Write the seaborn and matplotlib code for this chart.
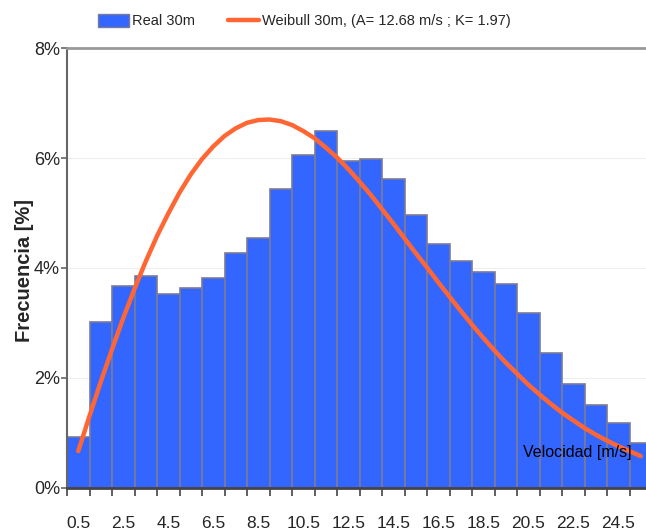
import numpy as np
import pandas as pd
import matplotlib
matplotlib.use("Agg")
import matplotlib.pyplot as plt
import seaborn as sns
from matplotlib.patches import Patch
from matplotlib.lines import Line2D

# ---- data ----
speeds = [0.5, 1.5, 2.5, 3.5, 4.5, 5.5, 6.5, 7.5, 8.5, 9.5, 10.5, 11.5, 12.5,
          13.5, 14.5, 15.5, 16.5, 17.5, 18.5, 19.5, 20.5, 21.5, 22.5, 23.5, 24.5, 25.5]
real_pct = [0.93, 3.02, 3.67, 3.86, 3.53, 3.63, 3.82, 4.28, 4.54, 5.44, 6.05, 6.50, 5.95,
            5.99, 5.62, 4.96, 4.44, 4.13, 3.93, 3.71, 3.18, 2.46, 1.90, 1.51, 1.19, 0.81]
curve_speeds = [0.5, 1.0, 1.5, 2.0, 2.5, 3.0, 3.5, 4.0, 4.5, 5.0, 5.5, 6.0, 6.5, 7.0,
                7.5, 8.0, 8.5, 9.0, 9.5, 10.0, 10.5, 11.0, 11.5, 12.0, 12.5, 13.0,
                13.5, 14.0, 14.5, 15.0, 15.5, 16.0, 16.5, 17.0, 17.5, 18.0, 18.5,
                19.0, 19.5, 20.0, 20.5, 21.0, 21.5, 22.0, 22.5, 23.0, 23.5, 24.0,
                24.5, 25.0, 25.5]
weibull_pct = [0.67, 1.31, 1.93, 2.52, 3.09, 3.62, 4.12, 4.58, 4.99, 5.37, 5.70, 5.98,
               6.21, 6.40, 6.54, 6.64, 6.69, 6.70, 6.67, 6.60, 6.49, 6.36, 6.19, 6.01,
               5.80, 5.57, 5.33, 5.07, 4.81, 4.54, 4.27, 4.01, 3.74, 3.48, 3.22, 2.97,
               2.73, 2.50, 2.28, 2.08, 1.88, 1.70, 1.53, 1.37, 1.23, 1.09, 0.97, 0.86,
               0.76, 0.67, 0.58]
xtick_values = [0.5, 2.5, 4.5, 6.5, 8.5, 10.5, 12.5, 14.5, 16.5, 18.5, 20.5, 22.5, 24.5]
xtick_labels = ["0.5", "2.5", "4.5", "6.5", "8.5", "10.5", "12.5", "14.5", "16.5",
                "18.5", "20.5", "22.5", "24.5"]
ytick_values = [0, 2, 4, 6, 8]
ytick_labels = ["0%", "2%", "4%", "6%", "8%"]
label_real = "Real 30m"
label_weibull = "Weibull 30m, (A= 12.68 m/s ; K= 1.97)"

BAR_COLOR = "#3366FF"
BAR_EDGE = "#7a7a99"
LINE_COLOR = "#FF6633"

sns.set_style("white")
plt.rcParams['font.family'] = ['Liberation Sans', 'DejaVu Sans']

W, H = 646, 531
fig = plt.figure(figsize=(W / 100, H / 100), dpi=100)
ax = fig.add_axes([67 / W, 43 / H, 585 / W, 440 / H])

df = pd.DataFrame({"speed": speeds, "real": real_pct})
sns.barplot(data=df, x="speed", y="real", native_scale=True, width=1.0,
            color=BAR_COLOR, saturation=1, edgecolor=BAR_EDGE, linewidth=1.2,
            ax=ax, zorder=2)
sns.lineplot(x=curve_speeds, y=weibull_pct, color=LINE_COLOR, linewidth=3.2, ax=ax,
             zorder=3)
for l in ax.lines:
    l.set_solid_capstyle("round")
    l.set_solid_joinstyle("round")

ax.set_xlim(0, 26)
ax.set_ylim(0, 8)

# boundaries as major ticks (marks only), labels at centres as minor ticks
ax.set_xticks(np.arange(0, 27))
ax.set_xticklabels([])
ax.set_xticks(xtick_values, minor=True)
ax.set_xticklabels(xtick_labels, minor=True, fontsize=12.5)
ax.tick_params(axis="x", which="major", direction="out", length=6, width=1.2,
               color="#444444", bottom=True)
ax.tick_params(axis="x", which="minor", length=0, pad=20)

ax.set_yticks(ytick_values)
ax.set_yticklabels(ytick_labels, fontsize=13)
ax.tick_params(axis="y", direction="out", length=4, width=1.2, color="#666666",
               left=True, pad=1)

ax.set_axisbelow(True)
ax.grid(axis="y", color="#eeeeee", linewidth=0.8)
ax.grid(axis="x", visible=False)

ax.spines["top"].set_color("#999999")
ax.spines["top"].set_linewidth(2)
ax.spines["right"].set_visible(False)
ax.spines["left"].set_color("#666666")
ax.spines["left"].set_linewidth(1.5)
ax.spines["bottom"].set_color("#444444")
ax.spines["bottom"].set_linewidth(2)

ax.set_xlabel("")
ax.set_ylabel("Frecuencia [%]", fontsize=14.5, fontweight="bold")
ax.yaxis.set_label_coords((34 - 67) / 585, 0.495)

ax.text((632 - 67) / 585, (488 - 452) / 440, "Velocidad [m/s]", transform=ax.transAxes,
        ha="right", va="center", fontsize=11.5, color="black", zorder=4)

handles = [Patch(facecolor=BAR_COLOR, edgecolor=BAR_EDGE, linewidth=1),
           Line2D([0], [0], color=LINE_COLOR, linewidth=3.2)]
fig.legend(handles, [label_real, label_weibull], loc="center left",
           bbox_to_anchor=(98 / W, 1 - 21 / H), ncol=2, frameon=False,
           fontsize=10.5, handlelength=2.1, handleheight=1.05, handletextpad=0.2,
           columnspacing=2.3, borderpad=0, borderaxespad=0)

fig.savefig("out.png", dpi=100)
